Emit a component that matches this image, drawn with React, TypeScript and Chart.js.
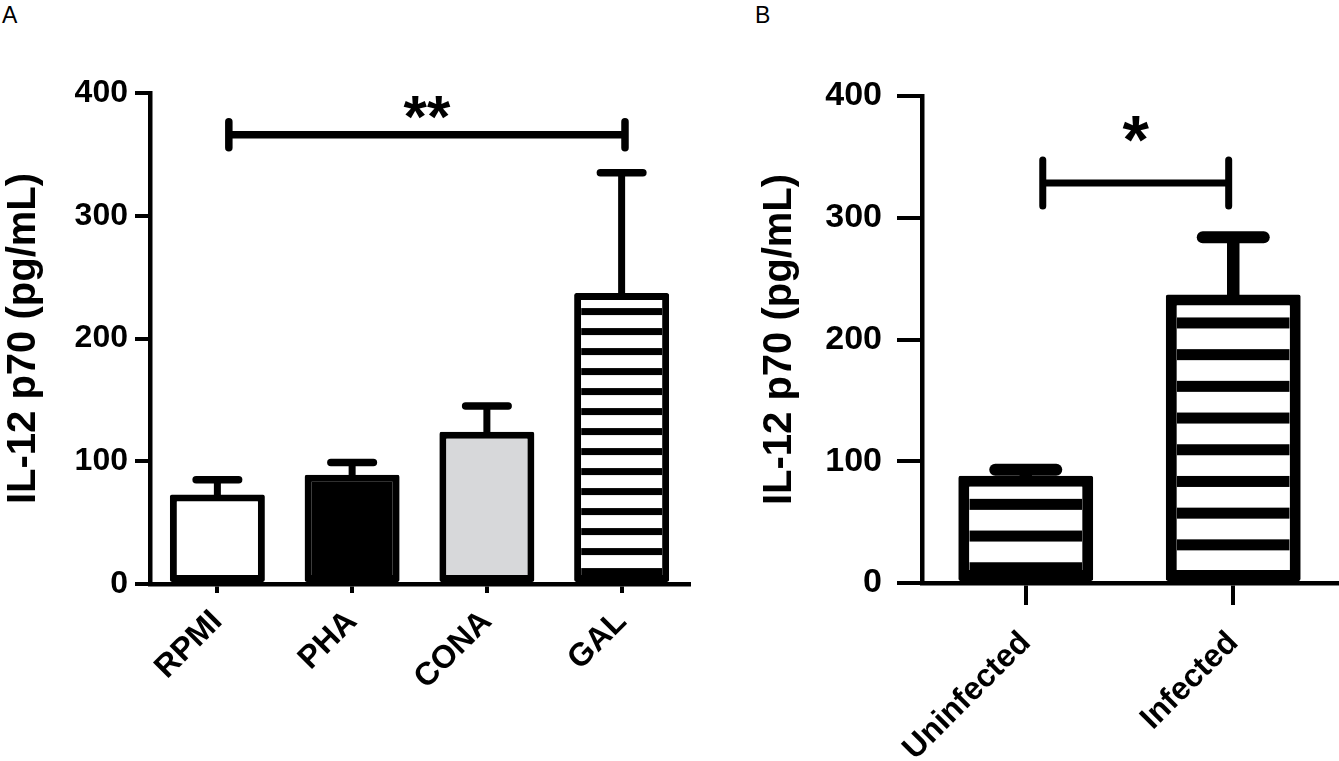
import React, { useEffect, useRef } from "react";
import { Chart, registerables } from "chart.js";

Chart.register(...registerables);

const FONT = "'Liberation Sans', Arial, Helvetica, sans-serif";

// ---------- shared ----------
const yTitle = "IL-12 p70 (pg/mL)";
const yMin = 0;
const yMax = 400;
const yStep = 100;

// ---------- panel A ----------
const categoriesA = ["RPMI", "PHA", "CONA", "GAL"];
const meansA = [73, 89, 124, 237];
const semA = [12, 10, 21, 98];
const fillsA = ["#ffffff", "#000000", "#d7d8da", "#ffffff"];
const stripedA = [false, false, false, true];
const sigA = { from: 0.085, to: 3.025, level: 366, label: "**", labelLevel: 388 };

// ---------- panel B ----------
const categoriesB = ["Uninfected", "Infected"];
const meansB = [88, 237];
const semB = [5, 47];
const fillsB = ["#ffffff", "#ffffff"];
const stripedB = [true, true];
const sigB = { from: 0.082, to: 0.978, level: 328.5, label: "*", labelLevel: 373 };

const decorPlugin = {
  id: "decor",
  afterDatasetsDraw(chart: any, _args: any, opts: any) {
    const ctx = chart.ctx;
    const meta = chart.getDatasetMeta(0);
    const ys = chart.scales.y;
    const xs = chart.scales.x;
    const values = chart.data.datasets[0].data as number[];
    const { striped, sem, stripe, err, sig } = opts;
    meta.data.forEach((bar: any, i: number) => {
      const p = bar.getProps(["x", "y", "base", "width"], true);
      if (striped[i]) {
        const bw = stripe.border;
        const left = p.x - p.width / 2 + bw;
        const right = p.x + p.width / 2 - bw;
        const top = p.y + bw;
        const bottom = p.base - bw;
        ctx.save();
        ctx.beginPath();
        ctx.rect(left, top, right - left, bottom - top);
        ctx.clip();
        ctx.fillStyle = "#000";
        for (let s = top + stripe.gap; s < bottom; s += stripe.period) {
          ctx.fillRect(left, s, right - left, stripe.thickness);
        }
        ctx.restore();
      }
      // upper error bar
      const yv = ys.getPixelForValue(values[i]);
      const ye = ys.getPixelForValue(values[i] + sem[i]);
      ctx.save();
      ctx.strokeStyle = "#000";
      ctx.lineCap = "butt";
      ctx.lineWidth = err.lineWidth;
      ctx.beginPath();
      ctx.moveTo(p.x, yv + 2);
      ctx.lineTo(p.x, ye);
      ctx.stroke();
      ctx.lineCap = "round";
      ctx.lineWidth = err.capLineWidth;
      ctx.beginPath();
      ctx.moveTo(p.x - err.capWidth / 2 + err.capLineWidth / 2, ye);
      ctx.lineTo(p.x + err.capWidth / 2 - err.capLineWidth / 2, ye);
      ctx.stroke();
      ctx.restore();
    });

    // significance bracket
    const x1 = xs.getPixelForValue(sig.data.from);
    const x2 = xs.getPixelForValue(sig.data.to);
    const yl = ys.getPixelForValue(sig.data.level);
    ctx.save();
    ctx.strokeStyle = "#000";
    ctx.lineWidth = sig.lineWidth;
    ctx.lineCap = "butt";
    ctx.beginPath();
    ctx.moveTo(x1, yl);
    ctx.lineTo(x2, yl);
    ctx.stroke();
    ctx.lineCap = "round";
    ctx.beginPath();
    ctx.moveTo(x1, yl - sig.endHalf);
    ctx.lineTo(x1, yl + sig.endHalf);
    ctx.moveTo(x2, yl - sig.endHalf);
    ctx.lineTo(x2, yl + sig.endHalf);
    ctx.stroke();
    ctx.font = `bold ${sig.fontSize}px ${FONT}`;
    ctx.fillStyle = "#000";
    ctx.textAlign = "center";
    ctx.textBaseline = "alphabetic";
    const m = ctx.measureText(sig.data.label);
    const target = ys.getPixelForValue(sig.data.labelLevel);
    const baseline = target + (m.actualBoundingBoxAscent - m.actualBoundingBoxDescent) / 2;
    ctx.fillText(sig.data.label, (x1 + x2) / 2, baseline);
    ctx.restore();
  },
};

function makeConfig(p: any) {
  return {
    type: "bar",
    data: {
      labels: p.categories,
      datasets: [
        {
          data: p.means,
          backgroundColor: p.fills,
          borderColor: "#000",
          borderWidth: p.borderWidth,
          borderSkipped: false,
          borderRadius: 2,
          barPercentage: p.barPercentage,
          categoryPercentage: 1,
        },
      ],
    },
    options: {
      responsive: false,
      animation: false,
      layout: { padding: { top: p.padTop, right: p.padRight, left: 0, bottom: 0 } },
      plugins: {
        legend: { display: false },
        tooltip: { enabled: false },
        decor: {
          striped: p.striped,
          sem: p.sem,
          stripe: p.stripe,
          err: p.err,
          sig: p.sig,
        },
      },
      scales: {
        y: {
          min: yMin,
          max: yMax,
          ticks: {
            stepSize: yStep,
            color: "#000",
            padding: p.yTickPad,
            font: { family: FONT, size: p.yTickFont, weight: "bold" },
          },
          grid: {
            drawOnChartArea: false,
            drawTicks: true,
            tickLength: p.yTickLen,
            lineWidth: 4,
            color: "#000",
          },
          border: { display: true, width: 4.5, color: "#000" },
          title: {
            display: true,
            text: yTitle,
            color: "#000",
            font: { family: FONT, size: 40, weight: "bold", lineHeight: 1 },
            padding: { top: p.titlePad, bottom: 0 },
          },
          afterFit: (s: any) => {
            s.width = p.yWidth;
          },
        },
        x: {
          offset: true,
          ticks: {
            autoSkip: false,
            maxRotation: 45,
            minRotation: 45,
            color: "#000",
            padding: p.xTickPad,
            font: { family: FONT, size: p.xTickFont, weight: "bold" },
          },
          grid: {
            offset: false,
            drawOnChartArea: false,
            drawTicks: true,
            tickLength: p.xTickLen,
            lineWidth: 4,
            color: "#000",
          },
          border: { display: true, width: 4.5, color: "#000" },
          afterFit: (s: any) => {
            s.height = p.xHeight;
          },
        },
      },
    },
    plugins: [decorPlugin],
  } as any;
}

function Panel({ left, width, params }: { left: number; width: number; params: any }) {
  const ref = useRef<HTMLCanvasElement | null>(null);
  useEffect(() => {
    if (!ref.current) return;
    const chart = new Chart(ref.current, makeConfig(params));
    return () => chart.destroy();
  }, []);
  return (
    <canvas
      ref={ref}
      width={width}
      height={761}
      style={{ position: "absolute", left, top: 0, width, height: 761, display: "block" }}
    />
  );
}

const paramsA = {
  categories: categoriesA,
  means: meansA,
  sem: semA,
  fills: fillsA,
  striped: stripedA,
  borderWidth: 7,
  barPercentage: 0.705,
  padTop: 93,
  padRight: 11,
  yWidth: 150,
  xHeight: 177,
  yTickPad: 7,
  yTickLen: 15,
  yTickFont: 32,
  xTickPad: 10,
  xTickLen: 9,
  xTickFont: 32,
  titlePad: 4,
  stripe: { border: 7, gap: 8, period: 20, thickness: 7 },
  err: { lineWidth: 7, capWidth: 50, capLineWidth: 7.5 },
  sig: { data: sigA, lineWidth: 7.5, endHalf: 13, fontSize: 60 },
};

const paramsB = {
  categories: categoriesB,
  means: meansB,
  sem: semB,
  fills: fillsB,
  striped: stripedB,
  borderWidth: 11,
  barPercentage: 0.65,
  padTop: 96,
  padRight: 2,
  yWidth: 222,
  xHeight: 178,
  yTickPad: 15,
  yTickLen: 25,
  yTickFont: 34,
  xTickPad: 19,
  xTickLen: 22,
  xTickFont: 32,
  titlePad: 60,
  stripe: { border: 11, gap: 12, period: 31.7, thickness: 11 },
  err: { lineWidth: 12.5, capWidth: 73, capLineWidth: 12 },
  sig: { data: sigB, lineWidth: 7, endHalf: 23, fontSize: 68 },
};

export default function App() {
  return (
    <div style={{ position: "absolute", left: 0, top: 0, width: 1339, height: 761, background: "#fff", overflow: "hidden" }}>
      <div style={{ position: "absolute", left: 2, top: 4, fontFamily: FONT, fontSize: 23, lineHeight: "23px", color: "#000" }}>A</div>
      <div style={{ position: "absolute", left: 755, top: 4, fontFamily: FONT, fontSize: 23, lineHeight: "23px", color: "#000" }}>B</div>
      <Panel left={0} width={700} params={paramsA} />
      <Panel left={700} width={639} params={paramsB} />
    </div>
  );
}
